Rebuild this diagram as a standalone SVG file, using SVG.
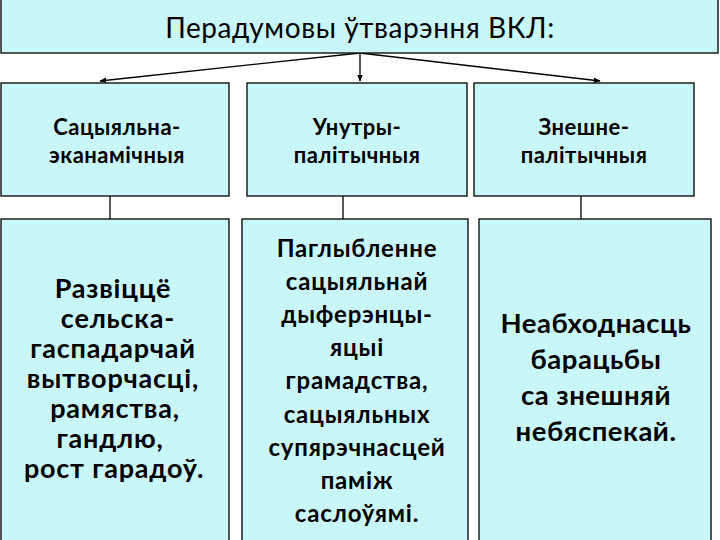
<svg xmlns="http://www.w3.org/2000/svg" width="720" height="540" viewBox="0 0 720 540">
<style>
.box{fill:#C8F6F9;stroke:#000;stroke-width:1.3}
.t{font-family:Lato,"Liberation Sans",sans-serif;fill:#000;text-anchor:middle}
.b{font-weight:bold}
.ln{stroke:#000;stroke-width:1.3;fill:none}
</style>
<defs>
<marker id="ah" viewBox="0 0 10 10" refX="9" refY="5" markerWidth="7" markerHeight="7" orient="auto" markerUnits="userSpaceOnUse">
<path d="M0,1 L10,5 L0,9 z" fill="#000"/>
</marker>
</defs>
<rect width="720" height="540" fill="#fff"/>
<g id="connectors">
<line class="ln" x1="360" y1="53" x2="100" y2="81" marker-end="url(#ah)"/>
<line class="ln" x1="360" y1="53" x2="360" y2="81" marker-end="url(#ah)"/>
<line class="ln" x1="360" y1="53" x2="600" y2="81" marker-end="url(#ah)"/>
<line class="ln" x1="110" y1="196" x2="110" y2="219"/>
<line class="ln" x1="343" y1="196" x2="343" y2="219"/>
<line class="ln" x1="581" y1="196" x2="581" y2="219"/>
</g>
<g id="title">
<rect class="box" x="1" y="-1" width="717" height="54"/>
<text class="t" x="360" y="38" font-size="28" letter-spacing="0.6">Перадумовы ўтварэння ВКЛ:</text>
</g>
<g id="n1">
<rect class="box" x="1" y="83" width="228" height="113"/>
<g class="t b" font-size="22" letter-spacing="0.5">
<text x="117" y="135">Сацыяльна-</text>
<text x="117" y="163">эканамічныя</text>
</g>
</g>
<g id="n2">
<rect class="box" x="247" y="83" width="220" height="113"/>
<g class="t b" font-size="22" letter-spacing="0.5">
<text x="357" y="135">Унутры-</text>
<text x="357" y="163">палітычныя</text>
</g>
</g>
<g id="n3">
<rect class="box" x="474" y="83" width="220" height="113"/>
<g class="t b" font-size="22" letter-spacing="0.5">
<text x="584" y="135">Знешне-</text>
<text x="584" y="163">палітычныя</text>
</g>
</g>
<g id="n4">
<rect class="box" x="1" y="219" width="228" height="330"/>
<g class="t b" font-size="27" letter-spacing="0.8">
<text x="113" y="298">Развіццё</text>
<text x="118" y="328">сельска-</text>
<text x="113" y="358">гаспадарчай</text>
<text x="113" y="388">вытворчасці,</text>
<text x="115" y="418">рамяства,</text>
<text x="110" y="448">гандлю,</text>
<text x="114" y="478">рост гарадоў.</text>
</g>
</g>
<g id="n5">
<rect class="box" x="242" y="219" width="226" height="330"/>
<g class="t b" font-size="24" letter-spacing="0.8">
<text x="357" y="257">Паглыбленне</text>
<text x="357" y="290">сацыяльнай</text>
<text x="357" y="323">дыферэнцы-</text>
<text x="357" y="356">яцыі</text>
<text x="357" y="389">грамадства,</text>
<text x="357" y="423">сацыяльных</text>
<text x="357" y="456">супярэчнасцей</text>
<text x="357" y="489">паміж</text>
<text x="357" y="522">саслоўямі.</text>
</g>
</g>
<g id="n6">
<rect class="box" x="479" y="219" width="232" height="330"/>
<g class="t b" font-size="27.5" letter-spacing="0.5">
<text x="596" y="333">Неабходнасць</text>
<text x="596" y="369">барацьбы</text>
<text x="596" y="405">са знешняй</text>
<text x="596" y="441">небяспекай.</text>
</g>
</g>
</svg>
